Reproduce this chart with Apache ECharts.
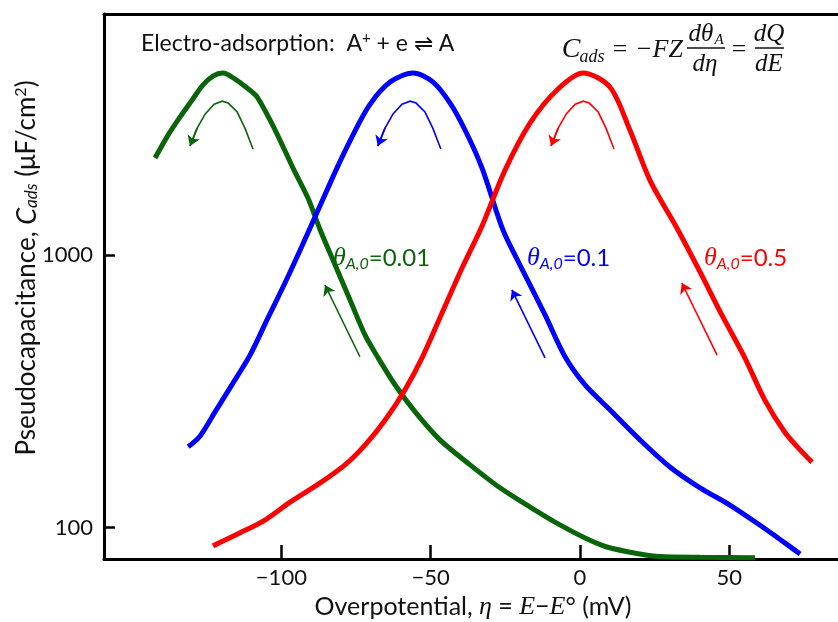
<!DOCTYPE html>
<html>
<head>
<meta charset="utf-8">
<script src="https://cdn.jsdelivr.net/npm/echarts@6/dist/echarts.min.js"></script>
<style>
  html, body { margin: 0; padding: 0; background: #fff; }
  #chart { width: 838px; height: 622px; }
</style>
</head>
<body>
<div id="chart"></div>
<script>
var chart = echarts.init(document.getElementById('chart'));

// 过电位 η (mV) 与赝电容 C (µF/cm²)
var greenEta = [-142.3, -137.9, -133.9, -129.9, -126.3, -122.9, -119.6, -115.5, -111.5, -108.1, -102.1, -96.1, -91.1, -87.0, -82.0, -77.0, -72.0, -67.6, -61.9, -55.2, -46.9, -36.8, -26.8, -16.7, -6.7, 1.7, 9.0, 20.1, 26.8, 40.2, 58.6];
var greenCap = [2276, 2767, 3221, 3715, 4217, 4550, 4668, 4436, 4112, 3811, 2884, 2090, 1622, 1239, 921, 685, 510, 420, 334, 266, 210, 170, 140, 119, 102.3, 91.6, 84.9, 80.0, 78.3, 77.8, 77.5];

var blueEta = [-131.2, -127.2, -122.2, -117.2, -110.5, -104.5, -98.8, -93.7, -87.7, -81.4, -76.5, -70.5, -63.6, -55.9, -49.2, -43.5, -38.5, -32.8, -25.8, -20.1, -11.7, -5.0, 1.7, 10.0, 20.1, 30.1, 40.2, 50.2, 60.3, 68.6, 73.7];
var blueCap = [198, 217, 266, 326, 430, 589, 791, 1046, 1466, 2090, 2700, 3560, 4325, 4668, 4325, 3622, 2884, 2090, 1239, 921, 604, 424, 334, 271, 210, 167, 140, 121, 102, 87.9, 80.0];

var redEta = [-122.9, -113.8, -105.5, -97.1, -87.0, -78.7, -72.0, -65.3, -58.6, -52.9, -46.2, -39.5, -32.8, -25.1, -16.7, -7.7, 1.0, 10.0, 16.7, 23.4, 32.8, 40.2, 47.5, 55.2, 61.9, 68.6, 73.7, 77.7];
var redCap = [85.7, 95.7, 106.6, 124, 146, 170, 201, 248, 321, 420, 614, 898, 1282, 2055, 3062, 4046, 4668, 4150, 2884, 1889, 1239, 869, 604, 420, 294, 224, 193, 174];

// 峰顶的弯曲箭头
var arcCap = [2455, 2931, 3357, 3622, 3681, 3589, 3303, 2931, 2518];
var greenArcEta = [-109.5, -112.2, -114.8, -117.8, -119.8, -122.5, -125.5, -128.2, -130.6];
var blueArcEta = [-46.6, -49.3, -51.9, -54.9, -56.9, -59.6, -62.6, -65.3, -67.7];
var redArcEta = [11.4, 8.7, 6.1, 3.1, 1.1, -1.6, -4.6, -7.3, -9.7];

// 直箭头 [尾, 头]
var greenArrow = [[-73.7, 424], [-85.4, 778]];
var blueArrow = [[-11.7, 420], [-22.8, 747]];
var redArrow = [[45.9, 430], [34.1, 791]];

var xTicks = [-100, -50, 0, 50];
var yTicks = [100, 1000];

var GREEN = '#0a650a', BLUE = '#0000ff', RED = '#ff0000';
var SANS = 'Lato';
var SERIF = 'Liberation Serif';

function zip(xs, ys) {
    var out = [];
    for (var i = 0; i < xs.length; i++) out.push([xs[i], ys[i]]);
    return out;
}

function curve(name, color, xs, ys) {
    return {
        name: name,
        type: 'line',
        data: zip(xs, ys),
        smooth: 0.3,
        showSymbol: false,
        lineStyle: { color: color, width: 5 },
        z: 3
    };
}

function arrow(color, coords, poly, withHead) {
    return {
        type: 'lines',
        coordinateSystem: 'cartesian2d',
        polyline: poly,
        symbol: withHead ? ['none', 'arrow'] : 'none',
        symbolSize: 10,
        lineStyle: { color: color, width: 1.6, opacity: 1, curveness: 0 },
        data: [{ coords: coords }],
        z: 4
    };
}

// 弧线 + 末端箭头
function arcArrow(color, xs, ys) {
    var pts = zip(xs, ys);
    var n = pts.length;
    return [
        arrow(color, pts, true, false),
        arrow(color, [pts[n - 2], pts[n - 1]], false, true)
    ];
}

function thetaLabel(x, color, value) {
    return {
        type: 'text',
        left: x,
        top: 245,
        style: {
            text: '{t|θ}{s|A,0}{v|=' + value + '}',
            fill: color,
            rich: {
                t: { fontFamily: SERIF, fontStyle: 'italic', fontSize: 26, fill: color },
                s: { fontFamily: SANS, fontStyle: 'italic', fontSize: 16, fill: color, padding: [11, 0, 0, 0] },
                v: { fontFamily: SANS, fontSize: 24, fill: color }
            }
        }
    };
}

function mtext(x, y, t, size, italic) {
    return {
        type: 'text',
        x: x,
        y: y,
        style: {
            text: t,
            fontFamily: SERIF,
            fontStyle: italic ? 'italic' : 'normal',
            fontSize: size,
            fill: '#111',
            align: 'center',
            verticalAlign: 'middle'
        }
    };
}

function hline(x1, x2, y) {
    return {
        type: 'line',
        shape: { x1: x1, y1: y, x2: x2, y2: y },
        style: { stroke: '#111', lineWidth: 1.5 }
    };
}

var series = [
    curve('0.01', GREEN, greenEta, greenCap),
    curve('0.1', BLUE, blueEta, blueCap),
    curve('0.5', RED, redEta, redCap)
];
series = series.concat(arcArrow(GREEN, greenArcEta, arcCap));
series = series.concat(arcArrow(BLUE, blueArcEta, arcCap));
series = series.concat(arcArrow(RED, redArcEta, arcCap));
series.push(arrow(GREEN, greenArrow, false, true));
series.push(arrow(BLUE, blueArrow, false, true));
series.push(arrow(RED, redArrow, false, true));

var option = {
    backgroundColor: '#fff',
    animation: false,
    grid: { left: 104, right: 0, top: 14, bottom: 63 },
    xAxis: [{
        type: 'value',
        min: -159.4,
        max: 86.4,
        splitLine: { show: false },
        axisLine: { onZero: false, lineStyle: { color: '#000', width: 3 } },
        axisTick: { inside: true, length: 14, customValues: xTicks, lineStyle: { color: '#000', width: 2.5 } },
        axisLabel: {
            customValues: xTicks,
            margin: 8,
            fontFamily: SANS,
            fontSize: 22,
            color: '#111',
            formatter: function (v) { return v < 0 ? '\u2212' + Math.abs(v) : String(v); }
        }
    }, {
        type: 'value',
        position: 'top',
        min: -159.4,
        max: 86.4,
        splitLine: { show: false },
        axisLine: { onZero: false, lineStyle: { color: '#000', width: 3 } },
        axisTick: { show: false },
        axisLabel: { show: false }
    }],
    yAxis: {
        type: 'log',
        logBase: 10,
        min: 76.7,
        max: 7691,
        splitLine: { show: false },
        minorTick: { show: false },
        axisLine: { onZero: false, lineStyle: { color: '#000', width: 3 } },
        axisTick: { inside: true, length: 11, customValues: yTicks, lineStyle: { color: '#000', width: 2.5 } },
        axisLabel: {
            customValues: yTicks,
            margin: 11,
            fontFamily: SANS,
            fontSize: 22,
            color: '#111',
            formatter: function (v) { return String(v); }
        }
    },
    series: series,
    graphic: [
        {
            type: 'text',
            left: 141,
            top: 31,
            style: {
                text: 'Electro-adsorption:  A{sup|+} + e \u21CC A',
                fontFamily: SANS,
                fontSize: 23,
                fill: '#111',
                rich: { sup: { fontFamily: SANS, fontSize: 15, fill: '#111', padding: [0, 0, 11, 0] } }
            }
        },
        // C_ads = −FZ dθA/dη = dQ/dE
        mtext(571, 50, 'C', 28, true),
        mtext(592, 57, 'ads', 18, true),
        mtext(620, 50, '=', 26, false),
        mtext(659, 50, '\u2212FZ', 26, true),
        mtext(701, 34, 'd\u03B8', 25, true),
        mtext(719, 40, 'A', 15, true),
        hline(687, 725, 48),
        mtext(705, 64, 'd\u03B7', 25, true),
        mtext(739, 50, '=', 26, false),
        mtext(769, 34, 'dQ', 25, true),
        hline(755, 784, 48),
        mtext(769, 64, 'dE', 25, true),
        thetaLabel(333, GREEN, '0.01'),
        thetaLabel(527, BLUE, '0.1'),
        thetaLabel(704, RED, '0.5'),
        {
            type: 'text',
            x: 473,
            y: 607,
            style: {
                text: 'Overpotential, {i|\u03B7} = {i|E}\u2212{i|E}\u00B0 (mV)',
                fontFamily: SANS,
                fontSize: 25,
                fill: '#111',
                align: 'center',
                verticalAlign: 'middle',
                rich: { i: { fontFamily: SERIF, fontStyle: 'italic', fontSize: 26, fill: '#111' } }
            }
        },
        {
            type: 'text',
            x: 27,
            y: 268,
            rotation: Math.PI / 2,
            style: {
                text: 'Pseudocapacitance, {i|C}{s|ads} (\u03BCF/cm{sup|2})',
                fontFamily: SANS,
                fontSize: 26,
                fill: '#111',
                align: 'center',
                verticalAlign: 'middle',
                rich: {
                    i: { fontFamily: SANS, fontStyle: 'italic', fontSize: 27, fill: '#111' },
                    s: { fontFamily: SANS, fontStyle: 'italic', fontSize: 17, fill: '#111', padding: [10, 0, 0, 0] },
                    sup: { fontFamily: SANS, fontSize: 16, fill: '#111', padding: [0, 0, 12, 0] }
                }
            }
        }
    ]
};

chart.setOption(option);
</script>
</body>
</html>
